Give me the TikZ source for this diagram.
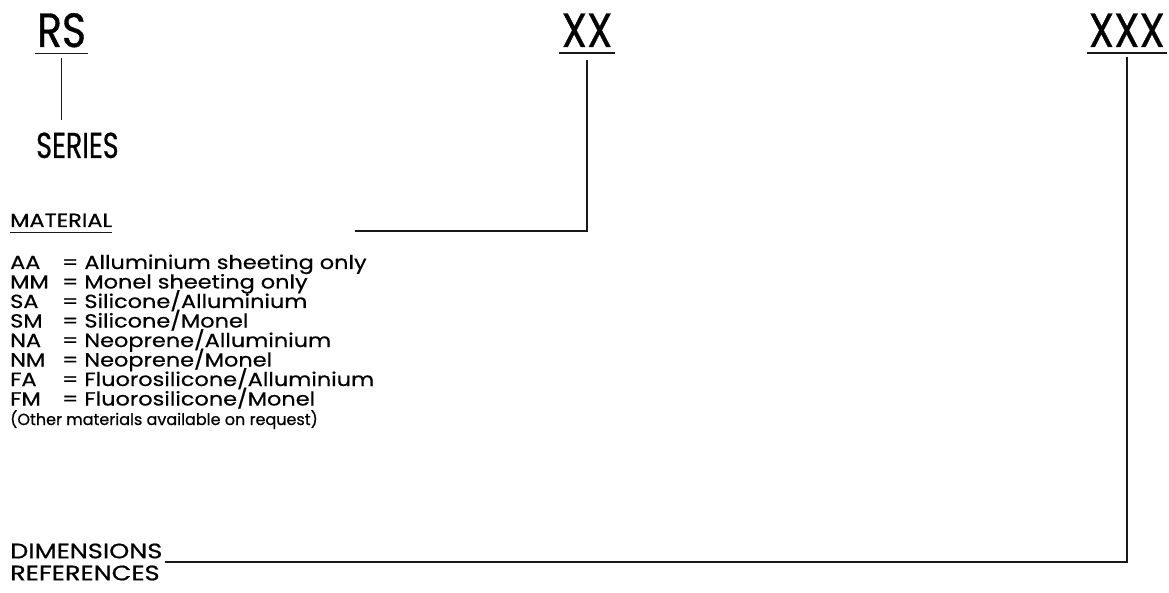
\documentclass[tikz,border=0pt]{standalone}
\usepackage{fontspec}
\setmainfont{Poppins}[FakeBold=0.7]
\newfontfamily\narrowfont{Poppins}[FakeStretch=0.85, FakeBold=0.7]
\newfontfamily\seriesfam{Poppins}[FakeStretch=0.75, FakeBold=0.7]
\newfontfamily\listfam{Poppins}[FakeStretch=1.18, FakeBold=0.6]
\newfontfamily\widefont{Poppins}[FakeStretch=1.22, FakeBold=0.7]
\begin{document}
\begin{tikzpicture}[x=1pt,y=-1pt,
  every node/.style={inner sep=0pt,anchor=base west},
  codefont/.style={font=\narrowfont\fontsize{48}{48}\selectfont},
  seriesfont/.style={font=\seriesfam\fontsize{36}{36}\selectfont},
  listfont/.style={font=\listfam\fontsize{19}{19}\selectfont},
  link/.style={line width=1.8pt,black!90}]
\def\xleft{10};
\def\xeq{62};
\def\ycode{47};
\def\ylist{269};
\def\ystep{19.5};

\useasboundingbox (0,0) rectangle (1169,593);

\node[codefont] (rs) at (37, \ycode) {RS};
\node[codefont, anchor=base] (xx) at (587, \ycode) {XX};
\node[codefont, anchor=base east] (xxx) at (1165, \ycode) {XXX};

\foreach \n in {rs, xx, xxx}
  \draw[link] ([xshift=-2pt, yshift=-6pt]\n.south west) -- ([xshift=2pt, yshift=-6pt]\n.south east);

\node[seriesfont] (series) at (36, 158) {SERIES};
\draw[link] ([yshift=-10pt]rs.south) -- ([yshift=12pt]rs.south |- series.north);

\node[listfont] (material) at (\xleft, 227) {MATERIAL};
\draw[link, line width=1.2pt] ([yshift=-5pt]material.south west) -- ([yshift=-5pt]material.south east);

\foreach \code/\desc [count=\i] in {AA/{Alluminium sheeting only}, MM/{Monel sheeting only},
    SA/{Silicone/Alluminium}, SM/{Silicone/Monel}, NA/{Neoprene/Alluminium},
    NM/{Neoprene/Monel}, FA/{Fluorosilicone/Alluminium}, FM/{Fluorosilicone/Monel}} {
  \node[listfont] (code\i) at (\xleft, \ylist + \i*\ystep - \ystep) {\code};
  \node[listfont] (desc\i) at (\xeq, \ylist + \i*\ystep - \ystep) {= \desc};
}
\node[font=\fontsize{16}{16}\selectfont] (other) at (\xleft, \ylist + 8*\ystep) {(Other materials available on request)};

\coordinate (matend) at (355, 231);
\draw[link] ([yshift=-13pt]xx.south) |- (matend);

\node[anchor=west, align=left, inner xsep=2pt, font=\widefont\fontsize{21}{22}\selectfont] (dimref) at (8, 562) {DIMENSIONS\\REFERENCES};
\draw[link] ([yshift=-10pt]xxx.south) |- (dimref.east);

\end{tikzpicture}
\end{document}
